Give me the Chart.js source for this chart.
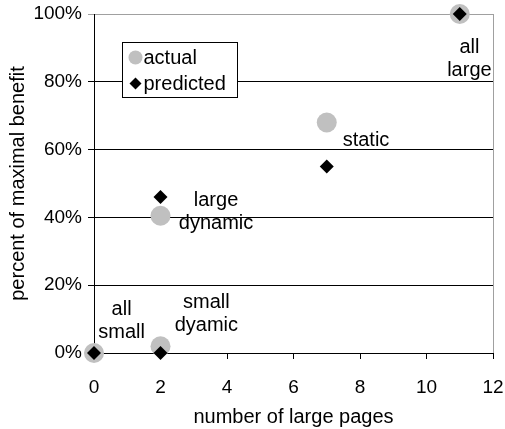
<!DOCTYPE html>
<html>
<head>
<meta charset="utf-8">
<script src="https://cdn.jsdelivr.net/npm/chart.js@4"></script>
<style>
  html, body { margin: 0; padding: 0; background: #fff; }
  #wrap { width: 505px; height: 429px; }
</style>
</head>
<body>
<div id="wrap"><canvas id="benefit"></canvas></div>
<script>
const actualX = [0, 2, 2, 7, 11];
const actualY = [0, 2, 40.5, 68, 100];
const predictedX = [0, 2, 2, 7, 11];
const predictedY = [0, 0, 46, 55, 100];
const xTicks = [0, 2, 4, 6, 8, 10, 12];
const yTicks = [0, 20, 40, 60, 80, 100];
const pointNames = [['all', 'small'], ['small', 'dyamic'], ['large', 'dynamic'], ['static'], ['all', 'large']];
// where each name sits, in data units (x pages, y percent of first line)
const nameAt = [[0.83, 12.7], [3.38, 14.9], [3.67, 45.1], [8.18, 62.8], [11.29, 90.1]];

const FONT = '"Liberation Sans", Arial, sans-serif';
Chart.defaults.font.family = FONT;
Chart.defaults.color = '#000';

const toPoints = (xs, ys) => xs.map((v, i) => ({ x: v, y: ys[i] }));

// text next to the points
const pointLabels = {
  id: 'pointLabels',
  afterDatasetsDraw(chart) {
    const { ctx, scales: { x, y } } = chart;
    ctx.save();
    ctx.font = '20px ' + FONT;
    ctx.fillStyle = '#000';
    ctx.textAlign = 'center';
    ctx.textBaseline = 'middle';
    pointNames.forEach((lines, i) => {
      const px = x.getPixelForValue(nameAt[i][0]);
      const py = y.getPixelForValue(nameAt[i][1]);
      lines.forEach((t, j) => ctx.fillText(t, px, py + j * 23));
    });
    ctx.restore();
  }
};

// boxed legend inside the plot + grey right frame
const boxLegend = {
  id: 'boxLegend',
  beforeDatasetsDraw(chart) {
    const { ctx, chartArea: a } = chart;
    ctx.save();
    ctx.strokeStyle = '#a0a0a0';
    ctx.lineWidth = 1;
    ctx.beginPath();
    ctx.moveTo(a.right + 0.5, a.top);
    ctx.lineTo(a.right + 0.5, a.bottom);
    ctx.stroke();
    ctx.restore();
  },
  afterDraw(chart) {
    const { ctx, chartArea: a } = chart;
    ctx.save();
    const bx = a.left + 28.5, by = a.top + 28.5, bw = 115, bh = 55;
    ctx.fillStyle = '#fff';
    ctx.fillRect(bx, by, bw, bh);
    ctx.strokeStyle = '#000';
    ctx.lineWidth = 1;
    ctx.strokeRect(bx, by, bw, bh);

    ctx.font = '20px ' + FONT;
    ctx.textBaseline = 'middle';
    ctx.textAlign = 'left';
    chart.data.datasets.forEach((ds, i) => {
      const cy = by + 15 + i * 26;
      const cx = bx + 13;
      ctx.fillStyle = ds.backgroundColor;
      ctx.beginPath();
      if (ds.pointStyle === 'rectRot') {
        ctx.moveTo(cx, cy - 6);
        ctx.lineTo(cx + 6, cy);
        ctx.lineTo(cx, cy + 6);
        ctx.lineTo(cx - 6, cy);
        ctx.closePath();
      } else {
        ctx.arc(cx, cy, 7, 0, Math.PI * 2);
      }
      ctx.fill();
      ctx.fillStyle = '#000';
      ctx.fillText(ds.label, cx + 8, cy + 1);
    });
    ctx.restore();
  }
};

new Chart(document.getElementById('benefit'), {
  type: 'scatter',
  data: {
    datasets: [
      {
        label: 'actual',
        data: toPoints(actualX, actualY),
        backgroundColor: '#c0c0c0',
        borderColor: '#c0c0c0',
        borderWidth: 0,
        pointStyle: 'circle',
        pointRadius: 10,
        clip: false,
        order: 1
      },
      {
        label: 'predicted',
        data: toPoints(predictedX, predictedY),
        backgroundColor: '#000',
        borderColor: '#000',
        borderWidth: 0,
        pointStyle: 'rectRot',
        pointRadius: 7,
        clip: false,
        order: 0
      }
    ]
  },
  options: {
    responsive: true,
    maintainAspectRatio: false,
    animation: false,
    events: [],
    layout: { padding: 0 },
    plugins: { legend: { display: false }, tooltip: { enabled: false } },
    scales: {
      x: {
        type: 'linear',
        min: 0,
        max: 12,
        afterBuildTicks: s => { s.ticks = xTicks.map(v => ({ value: v })); },
        afterFit: s => { s.height = 76; s.paddingLeft = 0; s.paddingRight = 12; },
        ticks: { color: '#000', font: { size: 19 }, padding: 17 },
        grid: { drawOnChartArea: false, color: '#000', tickLength: 6 },
        border: { color: '#000' },
        title: {
          display: true,
          text: 'number of large pages',
          color: '#000',
          font: { size: 20 },
          padding: { top: 0, bottom: 0 }
        }
      },
      y: {
        type: 'linear',
        min: 0,
        max: 100,
        afterBuildTicks: s => { s.ticks = yTicks.map(v => ({ value: v })); },
        afterFit: s => { s.width = 94; s.paddingTop = 14; s.paddingBottom = 0; },
        ticks: { color: '#000', font: { size: 19 }, padding: 6, callback: v => v + '%' },
        grid: {
          color: c => (c.tick && c.tick.value === 100 ? '#a0a0a0' : '#000'),
          tickLength: 6
        },
        border: { color: '#000' },
        title: {
          display: true,
          text: 'percent of maximal benefit',
          color: '#000',
          font: { size: 20 },
          padding: { top: 6, bottom: 0 }
        }
      }
    }
  },
  plugins: [pointLabels, boxLegend]
});
</script>
</body>
</html>
